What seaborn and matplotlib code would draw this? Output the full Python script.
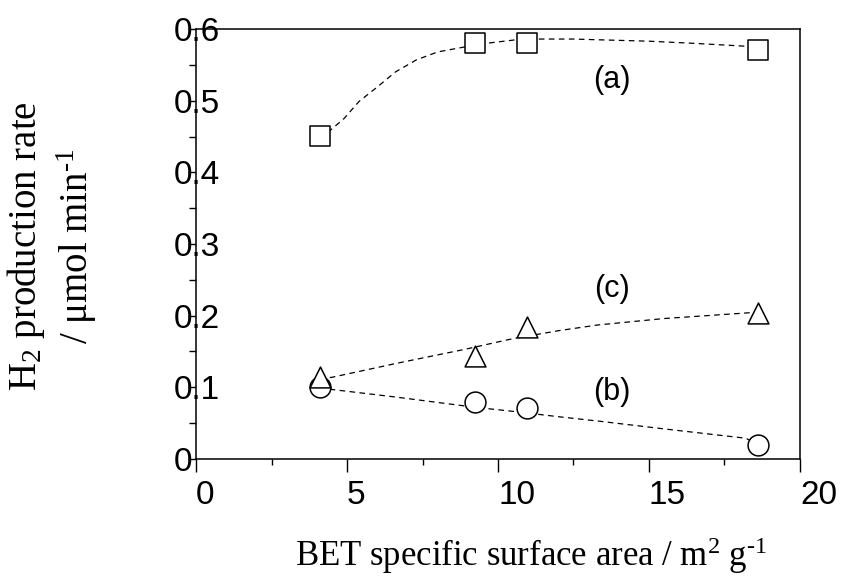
import numpy as np
import matplotlib
matplotlib.use('Agg')
import matplotlib.pyplot as plt
import seaborn as sns
from matplotlib.ticker import MultipleLocator

# BET surface area of the samples (m2/g)
bet_area = [4.1, 9.25, 10.95, 18.6]

# H2 production rate (umol/min) for the three series
rate_a = [0.451, 0.581, 0.581, 0.571]   # squares
rate_b = [0.100, 0.080, 0.071, 0.020]   # circles
rate_c = [0.115, 0.144, 0.184, 0.204]   # triangles

# dashed guide curves
guide_a_x = [4.05, 4.4, 4.9, 5.4, 6.0, 6.6, 7.3, 8.0, 8.9, 9.6, 10.6, 11.3, 12.5, 13.3, 15.0, 16.5, 18.2, 18.6]
guide_a_y = [0.451, 0.457, 0.475, 0.499, 0.519, 0.540, 0.557, 0.568, 0.575, 0.580, 0.585, 0.586, 0.586, 0.585, 0.583, 0.580, 0.576, 0.574]
guide_b_x = [4.1, 4.5, 6.7, 8.9, 9.5, 10.6, 12.0, 13.3, 15.5, 18.2, 18.6]
guide_b_y = [0.100, 0.097, 0.086, 0.074, 0.071, 0.066, 0.059, 0.053, 0.042, 0.029, 0.021]
guide_c_x = [4.1, 4.5, 6.7, 8.9, 10.5, 12.0, 13.3, 15.5, 18.3, 18.6]
guide_c_y = [0.112, 0.114, 0.134, 0.153, 0.168, 0.179, 0.187, 0.196, 0.204, 0.205]

labels = ['(a)', '(b)', '(c)']
label_x = [13.78, 13.78, 13.78]
label_y = [0.529, 0.093, 0.237]

sns.set_style('ticks')
plt.rcParams['font.family'] = ['Liberation Sans', 'DejaVu Sans']
plt.rcParams['mathtext.fontset'] = 'custom'
plt.rcParams['mathtext.rm'] = 'Liberation Serif'
plt.rcParams['mathtext.it'] = 'Liberation Serif:italic'
plt.rcParams['text.color'] = 'black'
plt.rcParams['xtick.color'] = 'black'
plt.rcParams['ytick.color'] = 'black'
plt.rcParams['xtick.labelcolor'] = 'black'
plt.rcParams['ytick.labelcolor'] = 'black'

fig = plt.figure(figsize=(8.42, 5.85), dpi=100)
ax = fig.add_axes([0.2328, 0.2154, 0.9501 - 0.2328, 0.9504 - 0.2154])

dash = (0, (4.5, 3.5))
for gx, gy in [(guide_a_x, guide_a_y), (guide_b_x, guide_b_y), (guide_c_x, guide_c_y)]:
    sns.lineplot(x=gx, y=gy, sort=False, color='black', lw=0.9, linestyle=dash,
                 ax=ax, zorder=1)

sns.scatterplot(x=bet_area, y=rate_b, marker='o', s=225, facecolor='white',
                edgecolor='black', linewidth=1.1, ax=ax, zorder=2)
sns.scatterplot(x=bet_area, y=rate_c, marker='^', s=225, facecolor='white',
                edgecolor='black', linewidth=1.1, ax=ax, zorder=3)
sns.scatterplot(x=bet_area, y=rate_a, marker='s', s=225, facecolor='white',
                edgecolor='black', linewidth=1.1, ax=ax, zorder=4)

for t, lx, ly in zip(labels, label_x, label_y):
    ax.text(lx, ly, t, fontsize=22, ha='center', va='center', color='black')

ax.set_xlim(0, 20)
ax.set_ylim(0, 0.6)
ax.xaxis.set_major_locator(MultipleLocator(5))
ax.xaxis.set_minor_locator(MultipleLocator(2.5))
ax.yaxis.set_major_locator(MultipleLocator(0.1))
ax.yaxis.set_minor_locator(MultipleLocator(0.05))
ax.set_xticks([0, 5, 10, 15, 20])
ax.set_xticklabels(['0', '5', '10', '15', '20'], ha='left')
ax.set_yticks([0, 0.1, 0.2, 0.3, 0.4, 0.5, 0.6])
ax.set_yticklabels(['0', '0.1', '0.2', '0.3', '0.4', '0.5', '0.6'], ha='left')

ax.tick_params(axis='both', which='major', direction='out', length=9, width=1,
               labelsize=24, color='black', labelcolor='black')
ax.tick_params(axis='both', which='minor', direction='out', length=4.5, width=1,
               color='black')
ax.tick_params(axis='x', which='major', pad=6)
ax.tick_params(axis='y', which='major', length=6, pad=10)
ax.tick_params(axis='y', which='minor', length=5)

for sp in ax.spines.values():
    sp.set_visible(True)
    sp.set_linewidth(1.1)
    sp.set_color('black')

ax.set_xlabel('')
ax.set_ylabel('')
fig.text(531 / 842, 1 - 556 / 585, 'BET specific surface area / m$^{2}$ g$^{\\text{-}1}$',
         fontsize=25, family='Liberation Serif', ha='center', va='center',
         color='black')
fig.text(52 / 842, 1 - 246 / 585, 'H$_{2}$ production rate\n/ μmol min$^{\\text{-}1}$',
         fontsize=28, family='Liberation Serif', ha='center', va='center',
         rotation=90, multialignment='center', color='black')

fig.savefig('out.png', dpi=100)
